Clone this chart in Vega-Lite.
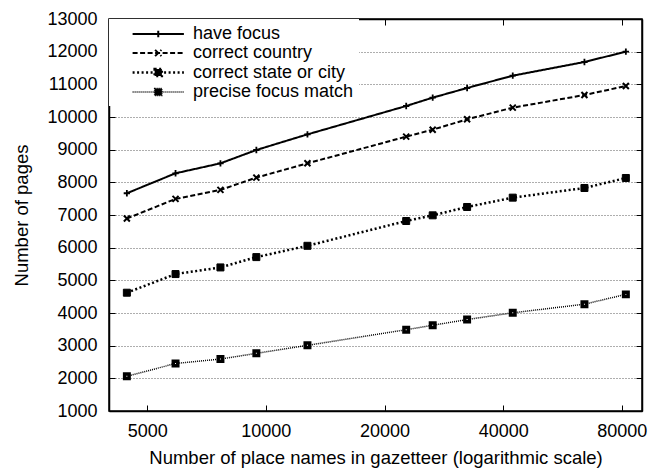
{
  "$schema": "https://vega.github.io/schema/vega-lite/v6.json",
  "width": 533,
  "height": 392,
  "autosize": {"type": "none"},
  "padding": {"left": 109, "top": 19, "right": 17, "bottom": 57},
  "background": "white",
  "view": {"stroke": "black", "strokeWidth": 1.5},
  "config": {
    "font": "Liberation Sans",
    "view": {"stroke": "black", "strokeWidth": 1.5},
    "axis": {
      "labelFont": "Liberation Sans",
      "labelFontSize": 18,
      "labelColor": "black",
      "titleFont": "Liberation Sans",
      "titleFontSize": 18.5,
      "titleFontWeight": "normal",
      "titleColor": "black"
    },
    "legend": {
      "orient": "top-left",
      "offset": 0,
      "padding": 5,
      "fillColor": "white",
      "labelFont": "Liberation Sans",
      "labelFontSize": 18,
      "labelColor": "black",
      "labelLimit": 500,
      "symbolSize": 324,
      "symbolStrokeColor": "black",
      "labelOffset": 58,
      "rowPadding": -1.5
    }
  },
  "data": {
    "values": [
      {"series": "have focus", "names": 4440, "pages": 7666},
      {"series": "have focus", "names": 5900, "pages": 8277},
      {"series": "have focus", "names": 7670, "pages": 8582},
      {"series": "have focus", "names": 9460, "pages": 8990},
      {"series": "have focus", "names": 12750, "pages": 9468},
      {"series": "have focus", "names": 22700, "pages": 10337},
      {"series": "have focus", "names": 26500, "pages": 10592},
      {"series": "have focus", "names": 32400, "pages": 10888},
      {"series": "have focus", "names": 42300, "pages": 11265},
      {"series": "have focus", "names": 64300, "pages": 11684},
      {"series": "have focus", "names": 81900, "pages": 12000},
      {"series": "correct country", "names": 4440, "pages": 6892},
      {"series": "correct country", "names": 5900, "pages": 7493},
      {"series": "correct country", "names": 7670, "pages": 7768},
      {"series": "correct country", "names": 9460, "pages": 8145},
      {"series": "correct country", "names": 12750, "pages": 8582},
      {"series": "correct country", "names": 22700, "pages": 9398},
      {"series": "correct country", "names": 26500, "pages": 9612},
      {"series": "correct country", "names": 32400, "pages": 9929},
      {"series": "correct country", "names": 42300, "pages": 10286},
      {"series": "correct country", "names": 64300, "pages": 10673},
      {"series": "correct country", "names": 81900, "pages": 10949},
      {"series": "correct state or city", "names": 4440, "pages": 4621},
      {"series": "correct state or city", "names": 5900, "pages": 5192},
      {"series": "correct state or city", "names": 7670, "pages": 5395},
      {"series": "correct state or city", "names": 9460, "pages": 5711},
      {"series": "correct state or city", "names": 12750, "pages": 6057},
      {"series": "correct state or city", "names": 22700, "pages": 6816},
      {"series": "correct state or city", "names": 26500, "pages": 6990},
      {"series": "correct state or city", "names": 32400, "pages": 7245},
      {"series": "correct state or city", "names": 42300, "pages": 7531},
      {"series": "correct state or city", "names": 64300, "pages": 7827},
      {"series": "correct state or city", "names": 81900, "pages": 8133},
      {"series": "precise focus match", "names": 4440, "pages": 2062},
      {"series": "precise focus match", "names": 5900, "pages": 2455},
      {"series": "precise focus match", "names": 7670, "pages": 2590},
      {"series": "precise focus match", "names": 9460, "pages": 2765},
      {"series": "precise focus match", "names": 12750, "pages": 3010},
      {"series": "precise focus match", "names": 22700, "pages": 3489},
      {"series": "precise focus match", "names": 26500, "pages": 3624},
      {"series": "precise focus match", "names": 32400, "pages": 3800},
      {"series": "precise focus match", "names": 42300, "pages": 4006},
      {"series": "precise focus match", "names": 64300, "pages": 4270},
      {"series": "precise focus match", "names": 81900, "pages": 4570}
    ]
  },
  "layer": [
    {
      "mark": {"type": "line", "color": "black"},
      "encoding": {
        "x": {
          "field": "names", "type": "quantitative",
          "scale": {"type": "log", "domain": [4000, 90000], "nice": false},
          "axis": {
            "orient": "bottom",
            "title": "Number of place names in gazetteer (logarithmic scale)",
            "values": [5000, 10000, 20000, 40000, 80000],
            "format": "d",
            "grid": false,
            "domain": true, "domainColor": "black", "domainWidth": 1.5,
            "ticks": true, "tickColor": "black", "tickWidth": 1, "tickSize": -6,
            "labelPadding": 17,
            "titleBaseline": "alphabetic",
            "titleY": 52
          }
        },
        "y": {
          "field": "pages", "type": "quantitative",
          "scale": {"domain": [1000, 13000], "nice": false, "zero": false},
          "axis": {
            "orient": "left",
            "title": "Number of pages",
            "values": [1000, 2000, 3000, 4000, 5000, 6000, 7000, 8000, 9000, 10000, 11000, 12000, 13000],
            "format": "d",
            "grid": true,
            "gridColor": "#333333",
            "gridDash": [1, 2],
            "gridWidth": 0.8,
            "domain": true, "domainColor": "black", "domainWidth": 1.5,
            "ticks": true, "tickColor": "black", "tickWidth": 1, "tickSize": -6,
            "labelPadding": 18,
            "titleBaseline": "alphabetic",
            "titleX": -82,
            "titleY": 196
          }
        },
        "detail": {"field": "series", "type": "nominal"},
        "strokeDash": {
          "field": "series", "type": "nominal",
          "scale": {
            "domain": ["have focus", "correct country", "correct state or city", "precise focus match"],
            "range": [[1, 0], [5, 2.5], [2, 2.5], [1, 1]]
          },
          "legend": null
        },
        "strokeWidth": {
          "field": "series", "type": "nominal",
          "scale": {
            "type": "ordinal",
            "domain": ["have focus", "correct country", "correct state or city", "precise focus match"],
            "range": [2, 2, 2.5, 1.5]
          },
          "legend": null
        }
      }
    },
    {
      "mark": {"type": "point", "stroke": "black", "opacity": 1},
      "encoding": {
        "x": {"field": "names", "type": "quantitative", "axis": null},
        "y": {"field": "pages", "type": "quantitative", "axis": null},
        "shape": {
          "field": "series", "type": "nominal",
          "scale": {
            "domain": ["have focus", "correct country", "correct state or city", "precise focus match"],
            "range": ["M-1,0H1M0,-1V1", "M-1,-1L1,1M-1,1L1,-1", "square", "square"]
          },
          "legend": null
        },
        "fill": {
          "field": "series", "type": "nominal",
          "scale": {
            "domain": ["have focus", "correct country", "correct state or city", "precise focus match"],
            "range": ["black", "black", "black", "white"]
          },
          "legend": null
        },
        "size": {
          "field": "series", "type": "nominal",
          "scale": {
            "type": "ordinal",
            "domain": ["have focus", "correct country", "correct state or city", "precise focus match"],
            "range": [40, 36, 49, 20]
          },
          "legend": null
        },
        "strokeWidth": {
          "field": "series", "type": "nominal",
          "scale": {
            "type": "ordinal",
            "domain": ["have focus", "correct country", "correct state or city", "precise focus match"],
            "range": [1.8, 2, 1, 3.5]
          },
          "legend": null
        }
      }
    },
    {
      "transform": [{"filter": "false"}],
      "mark": {"type": "point", "opacity": 1},
      "encoding": {
        "x": {
          "field": "names", "type": "quantitative",
          "axis": {
            "orient": "top", "labels": false, "title": null, "grid": false,
            "values": [5000, 10000, 20000, 40000, 80000],
            "domain": true, "domainColor": "black", "domainWidth": 1.5,
            "ticks": true, "tickColor": "black", "tickWidth": 1, "tickSize": -6
          }
        },
        "y": {
          "field": "pages", "type": "quantitative",
          "axis": {
            "orient": "right", "labels": false, "title": null, "grid": false,
            "values": [1000, 2000, 3000, 4000, 5000, 6000, 7000, 8000, 9000, 10000, 11000, 12000, 13000],
            "domain": true, "domainColor": "black", "domainWidth": 1.5,
            "ticks": true, "tickColor": "black", "tickWidth": 1, "tickSize": -6
          }
        },
        "shape": {
          "field": "series", "type": "nominal",
          "scale": {
            "domain": ["have focus", "correct country", "correct state or city", "precise focus match"],
            "range": [
              "M0.9,0H6.6M3.75,-0.35V0.35",
              "M0.9,0H6.6M3.4,-0.35L4.1,0.35M3.4,0.35L4.1,-0.35",
              "M0.9,0H6.6M3.35,-0.4H4.15V0.4H3.35Z",
              "M0.9,0H6.6M3.35,-0.4H4.15V0.4H3.35Z"
            ]
          },
          "legend": {"title": null}
        },
        "strokeDash": {
          "field": "series", "type": "nominal",
          "scale": {
            "domain": ["have focus", "correct country", "correct state or city", "precise focus match"],
            "range": [[1, 0], [5, 2.5], [2, 2.5], [1, 1]]
          },
          "legend": {"title": null}
        },
        "stroke": {
          "field": "series", "type": "nominal",
          "scale": {
            "domain": ["have focus", "correct country", "correct state or city", "precise focus match"],
            "range": ["black", "black", "black", "black"]
          },
          "legend": {"title": null}
        },
        "fill": {
          "field": "series", "type": "nominal",
          "scale": {
            "domain": ["have focus", "correct country", "correct state or city", "precise focus match"],
            "range": ["black", "black", "black", "black"]
          },
          "legend": {"title": null}
        },
        "strokeWidth": {
          "field": "series", "type": "nominal",
          "scale": {
            "type": "ordinal",
            "domain": ["have focus", "correct country", "correct state or city", "precise focus match"],
            "range": [2, 2, 2.5, 1.5]
          },
          "legend": {"title": null}
        }
      }
    }
  ],
  "resolve": {
    "scale": {"shape": "independent", "strokeDash": "independent", "fill": "independent", "stroke": "independent", "strokeWidth": "independent", "size": "independent"}
  }
}
